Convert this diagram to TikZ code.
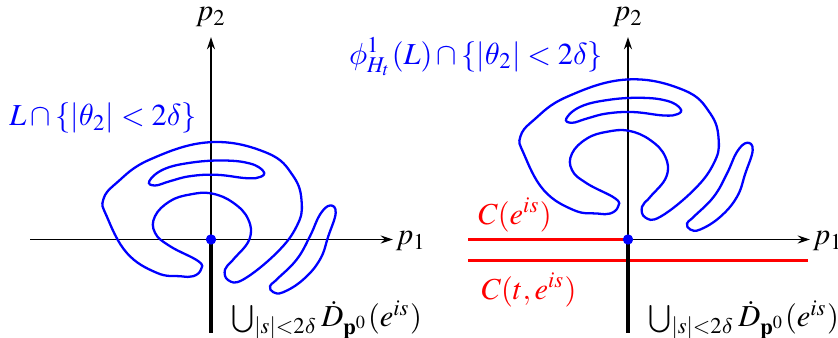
\documentclass[tikz,border=0pt]{standalone}
\usepackage{mathptmx}
\DeclareSymbolFont{cmgreek}{OML}{cmm}{m}{it}
\DeclareMathSymbol{\theta}{\mathord}{cmgreek}{"12}
\DeclareMathSymbol{\delta}{\mathord}{cmgreek}{"0E}
\DeclareMathSymbol{\phi}{\mathord}{cmgreek}{"1E}
\usetikzlibrary{arrows.meta,positioning}

% the Lagrangian piece, drawn around the current origin
\newcommand{\lagpiece}{%
  \draw[lag] plot[smooth cycle, tension=0.7] coordinates {
    (-1,97.3) (-61,80) (-94.3,56.7) (-107.7,40) (-104.3,23.3) (-84.3,-13.3)
    (-54.3,-33.3) (-31,-36.7) (-17.7,-36.7) (-10,-30) (-12.7,-21.7) (-41,-6.7)
    (-56,6.7) (-56,23.3) (-41,38.3) (-21,45) (0.7,46) (22.3,36.7) (37.3,20)
    (38.3,0) (22.3,-20) (14,-30) (17.3,-40.7) (32.3,-40) (65.7,-13.3)
    (85.7,13.3) (90.7,36.7) (82.3,63.3) (55.7,86.7)};
  \draw[lag] plot[smooth cycle, tension=0.7] coordinates {
    (-61.7,58.3) (-47.7,70) (-21,76.7) (12.3,79) (39,76) (52.3,68.3)
    (49.7,62.7) (35.7,61.3) (5.7,64.7) (-21,63.3) (-41,58.3) (-56,54)};
  \draw[lag] plot[smooth cycle, tension=0.7] coordinates {
    (119,34) (124.7,26.7) (117.3,3.3) (109,-20) (92.3,-40) (72.3,-52.7)
    (62.3,-52.7) (59,-46.7) (65.7,-40) (85.7,-20) (99,3.3) (109,25)};
}

\begin{document}
\begin{tikzpicture}[
    x=0.328pt, y=0.328pt,
    axis/.style={-{Stealth[length=4pt,width=2.6pt]}, line width=0.45pt},
    lag/.style={blue, line width=0.75pt},
    fiber/.style={line width=1.3pt},
    conj/.style={red, line width=1.1pt},
    conjt/.style={red, line width=0.75pt},
    dot/.style={circle, fill=blue, inner sep=0pt, minimum size=3.4pt},
    lbl/.style={inner sep=1pt}
]
    \useasboundingbox (0,0) rectangle (838,338);

    % ---- left picture
    \coordinate (o1) at (211,98.5);
    \coordinate (x1l) at (30,98.5);
    \coordinate (x1r) at (393,98.5);
    \coordinate (y1t) at (211,301);
    \coordinate (y1b) at (211,5);
    \draw[axis] (x1l) -- (x1r);
    \draw[axis] (o1) -- (y1t);
    \node[lbl] (p11) at (411,97) {$p_1$};
    \node[lbl] (p21) at (211,321) {$p_2$};
    \begin{scope}[shift={(o1)}]
        \lagpiece
    \end{scope}
    \draw[fiber] (o1) -- (y1b);
    \node[dot] (d1) at (o1) {};
    \node[lbl, blue] (lab1) at (103,220) {$L\cap\{|\theta_2|<2\delta\}$};
    \node[lbl, anchor=west] (fib1) at (228,18) {$\bigcup_{|s|<2\delta}\dot D_{\mathbf{p}^0}(e^{is})$};

    % ---- right picture
    \coordinate (o2) at (628,98.5);
    \coordinate (x2l) at (468,98.5);
    \coordinate (x2r) at (810,98.5);
    \coordinate (y2t) at (628,301);
    \coordinate (y2b) at (628,5);
    \coordinate (c2l) at (468,77.5);
    \coordinate (c2r) at (808,77.5);
    \draw[axis] (o2) -- (x2r);
    \draw[axis] (o2) -- (y2t);
    \node[lbl] (p12) at (828,97) {$p_1$};
    \node[lbl] (p22) at (628,321) {$p_2$};
    \begin{scope}[shift={(628,161.2)}]
        \lagpiece
    \end{scope}
    \draw[conj] (x2l) -- (o2);
    \draw[conjt] (c2l) -- (c2r);
    \draw[fiber] (o2) -- (y2b);
    \node[dot] (d2) at (o2) {};
    \node[lbl, red] (ce) at (515,123) {$C(e^{is})$};
    \node[lbl, red] (cte) at (529,48) {$C(t,e^{is})$};
    \node[lbl, blue] (lab2) at (476,281) {$\phi^1_{H_t}(L)\cap\{|\theta_2|<2\delta\}$};
    \node[lbl, anchor=west] (fib2) at (645,18) {$\bigcup_{|s|<2\delta}\dot D_{\mathbf{p}^0}(e^{is})$};
\end{tikzpicture}
\end{document}
